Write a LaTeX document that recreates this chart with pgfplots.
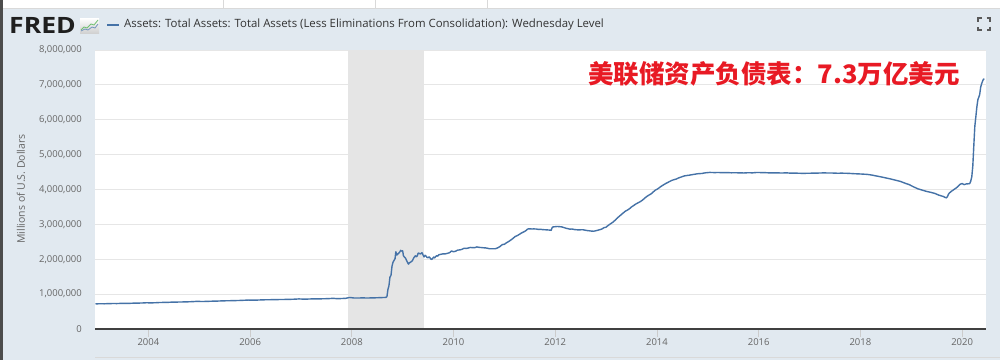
\documentclass[border=0pt]{standalone}
\usepackage{fontspec}
\setmainfont{Open Sans}
\newfontfamily\cjk{Noto Sans CJK SC}
\usepackage{graphicx}
\usepackage{pgfplots}
\pgfplotsset{compat=1.18}
\usepackage{pgfplotstable}
\definecolor{bgcol}{RGB}{225,233,240}
\definecolor{fredblue}{RGB}{69,114,167}
\definecolor{labgray}{RGB}{102,102,102}
\definecolor{gridgray}{RGB}{230,230,230}
\definecolor{recess}{RGB}{229,229,229}
\definecolor{redtxt}{RGB}{232,26,36}
\definecolor{axisdark}{RGB}{64,64,64}

\pgfplotstableread{
t v
2002.96 719500
2003.04 724800
2003.13 722600
2003.21 727900
2003.29 730400
2003.38 729800
2003.46 734700
2003.54 736900
2003.63 735800
2003.71 741200
2003.79 742500
2003.88 746300
2003.96 752600
2004.04 749800
2004.13 752400
2004.21 758900
2004.29 762300
2004.38 764100
2004.46 770400
2004.54 771800
2004.63 774600
2004.71 776900
2004.79 780200
2004.88 785700
2004.96 793400
2005.04 788900
2005.13 790600
2005.21 795200
2005.29 799800
2005.38 801900
2005.46 807600
2005.54 809400
2005.63 812300
2005.71 815100
2005.79 818600
2005.88 823800
2005.96 830500
2006.04 826200
2006.13 828900
2006.21 834100
2006.29 837800
2006.38 839200
2006.46 843300
2006.54 844100
2006.63 846400
2006.71 848300
2006.79 850600
2006.88 855800
2006.96 862700
2007.04 857300
2007.13 858400
2007.21 862900
2007.29 865600
2007.38 864800
2007.46 868100
2007.54 871300
2007.63 879800
2007.71 870200
2007.79 873500
2007.88 880100
2007.96 904600
2008.04 889700
2008.13 887900
2008.21 893200
2008.29 888600
2008.38 891400
2008.46 894300
2008.54 898700
2008.63 903800
2008.67 905700
2008.69 926500
2008.71 1134000
2008.73 1243000
2008.75 1493000
2008.77 1535000
2008.79 1800000
2008.81 1915000
2008.83 1967000
2008.85 2017000
2008.865 2215000
2008.885 2123000
2008.905 2147000
2008.925 2178000
2008.945 2213000
2008.96 2256000
2008.98 2234000
2009.00 2241000
2009.015 2097000
2009.035 2064000
2009.055 2036000
2009.075 1970000
2009.095 1910000
2009.115 1860000
2009.13 1897000
2009.15 1910000
2009.17 1935000
2009.19 1956000
2009.21 2019000
2009.23 2068000
2009.25 2099000
2009.265 2071000
2009.285 2093000
2009.305 2176000
2009.325 2170000
2009.345 2154000
2009.365 2166000
2009.38 2189000
2009.40 2124000
2009.42 2066000
2009.44 2114000
2009.46 2087000
2009.48 2051000
2009.50 2046000
2009.52 2070000
2009.535 2045000
2009.555 2003000
2009.575 1998000
2009.59 2025000
2009.61 2065000
2009.63 2040000
2009.65 2080000
2009.67 2101000
2009.69 2090000
2009.71 2130000
2009.75 2141000
2009.79 2156000
2009.83 2152000
2009.88 2170000
2009.92 2187000
2009.96 2237000
2010.00 2215000
2010.04 2231000
2010.08 2262000
2010.13 2270000
2010.17 2288000
2010.21 2316000
2010.25 2310000
2010.29 2322000
2010.33 2339000
2010.38 2331000
2010.42 2334000
2010.46 2354000
2010.50 2341000
2010.54 2337000
2010.58 2330000
2010.63 2326000
2010.67 2315000
2010.71 2301000
2010.75 2302000
2010.79 2300000
2010.83 2304000
2010.88 2336000
2010.92 2372000
2010.96 2423000
2011.00 2429000
2011.04 2473000
2011.08 2505000
2011.13 2555000
2011.17 2600000
2011.21 2650000
2011.25 2676000
2011.29 2710000
2011.33 2748000
2011.38 2784000
2011.42 2818000
2011.46 2868000
2011.50 2873000
2011.54 2868000
2011.58 2870000
2011.63 2866000
2011.67 2855000
2011.71 2860000
2011.75 2850000
2011.79 2847000
2011.83 2843000
2011.88 2838000
2011.92 2829000
2011.94 2912000
2011.96 2928000
2012.00 2934000
2012.04 2940000
2012.08 2935000
2012.13 2928000
2012.17 2909000
2012.21 2890000
2012.25 2877000
2012.29 2862000
2012.33 2868000
2012.38 2851000
2012.42 2846000
2012.46 2840000
2012.50 2845000
2012.54 2847000
2012.58 2836000
2012.63 2822000
2012.67 2816000
2012.71 2808000
2012.75 2803000
2012.79 2815000
2012.83 2830000
2012.88 2850000
2012.92 2869000
2012.96 2907000
2013.00 2920000
2013.04 2970000
2013.08 3010000
2013.13 3060000
2013.17 3110000
2013.21 3170000
2013.25 3220000
2013.29 3270000
2013.33 3320000
2013.38 3380000
2013.42 3410000
2013.46 3450000
2013.50 3500000
2013.54 3540000
2013.58 3580000
2013.63 3620000
2013.67 3650000
2013.71 3690000
2013.75 3740000
2013.79 3790000
2013.83 3830000
2013.88 3870000
2013.92 3920000
2013.96 3975000
2014.00 4005000
2014.04 4045000
2014.08 4090000
2014.13 4135000
2014.17 4170000
2014.21 4200000
2014.25 4230000
2014.29 4260000
2014.33 4280000
2014.38 4300000
2014.42 4330000
2014.46 4350000
2014.50 4370000
2014.54 4390000
2014.58 4400000
2014.63 4410000
2014.67 4420000
2014.71 4430000
2014.75 4440000
2014.79 4450000
2014.83 4455000
2014.88 4460000
2014.92 4470000
2014.96 4480000
2015.04 4490000
2015.13 4485000
2015.21 4488000
2015.29 4482000
2015.38 4486000
2015.46 4479000
2015.54 4480000
2015.63 4478000
2015.71 4474000
2015.79 4481000
2015.88 4478000
2015.96 4488000
2016.04 4486000
2016.13 4483000
2016.21 4477000
2016.29 4479000
2016.38 4476000
2016.46 4473000
2016.54 4478000
2016.63 4469000
2016.71 4471000
2016.79 4466000
2016.88 4463000
2016.96 4466000
2017.04 4468000
2017.13 4469000
2017.21 4474000
2017.29 4476000
2017.38 4473000
2017.46 4472000
2017.54 4467000
2017.63 4468000
2017.71 4467000
2017.79 4461000
2017.88 4453000
2017.96 4448000
2018.04 4442000
2018.13 4434000
2018.21 4418000
2018.29 4395000
2018.38 4370000
2018.46 4345000
2018.54 4320000
2018.63 4290000
2018.71 4260000
2018.79 4230000
2018.88 4180000
2018.96 4140000
2019.04 4080000
2019.13 4020000
2019.21 3985000
2019.29 3950000
2019.38 3920000
2019.46 3890000
2019.54 3840000
2019.63 3800000
2019.67 3770000
2019.69 3760000
2019.71 3790000
2019.73 3860000
2019.75 3900000
2019.79 3950000
2019.83 3990000
2019.88 4040000
2019.92 4090000
2019.96 4150000
2020.00 4170000
2020.04 4140000
2020.08 4160000
2020.13 4165000
2020.15 4170000
2020.17 4241000
2020.19 4363000
2020.21 4668000
2020.23 5254000
2020.25 5811000
2020.27 6084000
2020.29 6368000
2020.31 6574000
2020.33 6656000
2020.345 6719000
2020.365 6934000
2020.385 7037000
2020.40 7097000
2020.42 7166000
2020.44 7169000
}\fedtable

\begin{document}
\begin{tikzpicture}
\useasboundingbox (0pt,0pt) rectangle (1000pt,360pt);
\begin{scope}[x=1pt,y=1pt]
\fill[bgcol] (0,0) rectangle (1000,360);
\fill[white] (0,351) rectangle (1000,360);
\draw[line width=0.8pt, black!15] (0,351.5) -- (1000,351.5);
\foreach \xx in {223,375,487} \draw[black!15] (\xx,351.5)--(\xx,360);
\fill[black!70] (0,0) rectangle (2.7,360);
\draw[black!15, line width=1pt] (95,2.5) -- (1000,2.5);
% logo
\node[anchor=west, inner sep=0pt, text=black!88] at (9,335) {\scalebox{1.18}[1]{\fontsize{22.5}{22.5}\selectfont\bfseries FRED}};
\shade[top color=white, bottom color=black!18] (80,327) rectangle (99,342);
\draw[green!55!black!55, line width=0.8pt] (81,330) -- (84,333) -- (87,332) -- (91,336) -- (94,335) -- (98,340);
\draw[fredblue!75, line width=0.8pt] (81,329) -- (85,331) -- (88,330) -- (92,333) -- (95,332) -- (98,336);
% legend
\draw[fredblue, line width=2pt] (107,335) -- (119,335);
\node[anchor=west, inner sep=0pt, text=black!80] at (124,335) {\fontsize{11.4}{13}\selectfont Assets: Total Assets: Total Assets (Less Eliminations From Consolidation): Wednesday Level};
% expand icon
\begin{scope}[black!65, line width=1.3pt]
\draw (978,338.5)--(978,342)--(981.5,342);
\draw (986.5,342)--(990,342)--(990,338.5);
\draw (990,333.5)--(990,330)--(986.5,330);
\draw (981.5,330)--(978,330)--(978,333.5);
\end{scope}
% y label
\node[rotate=90, text=labgray] at (21,171) {\fontsize{10.5}{12}\selectfont Millions of U.S. Dollars};
\end{scope}

\begin{axis}[
  at={(95pt,31pt)}, anchor=south west,
  width=891pt, height=279pt, scale only axis,
  xmin=2002.95, xmax=2020.47,
  ymin=0, ymax=8000000,
  axis background/.style={fill=white},
  axis line style={draw=none},
  ytick={0,1000000,2000000,3000000,4000000,5000000,6000000,7000000,8000000},
  scaled y ticks=false,
  yticklabel={\pgfmathprintnumber[fixed,1000 sep={,},assume math mode=true]{\tick}},
  ymajorgrids,
  grid style={gridgray, line width=1pt},
  ytick style={draw=none},
  xtick={2004,2006,2008,2010,2012,2014,2016,2018,2020},
  xticklabels={2004,2006,2008,2010,2012,2014,2016,2018,2020},
  xtick pos=left,
  xtick style={draw=black!20, line width=0.8pt},
  major tick length=8pt,
  tick align=outside,
  ticklabel style={font=\fontsize{9.5}{11}\selectfont, text=labgray},
  yticklabel style={anchor=east, inner sep=0pt, xshift=-5pt},
  xticklabel style={anchor=center, inner sep=0pt, yshift=-5pt},
]
\addplot[draw=none, fill=recess] coordinates {(2007.917,8000000) (2009.417,8000000)} \closedcycle;
\addplot[fredblue, line width=1.4pt, line join=round] table[x=t,y=v]{\fedtable};
\draw[axisdark, line width=2pt] (rel axis cs:0,0) -- (rel axis cs:1,0);
\end{axis}

\node[text=redtxt] at (774pt,286.5pt) {\cjk\bfseries\fontsize{25.5}{25.5}\selectfont 美联储资产负债表：7.3万亿美元};
\end{tikzpicture}
\end{document}
